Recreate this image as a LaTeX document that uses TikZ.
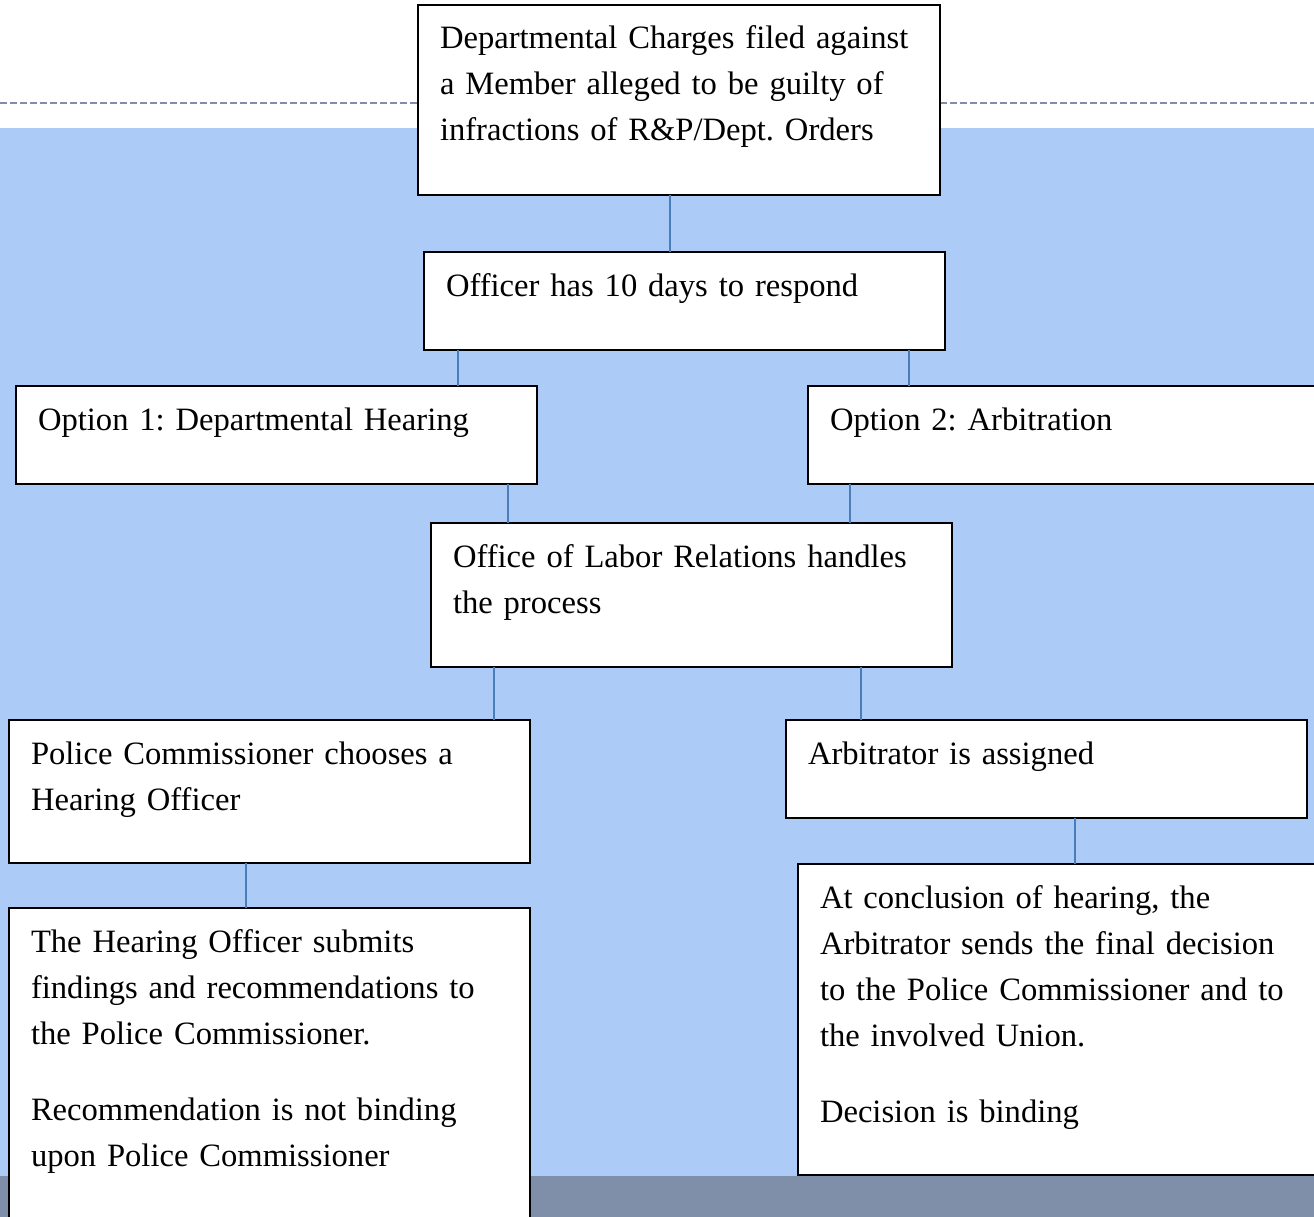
\documentclass[tikz,border=0pt]{standalone}
\usepackage{fontspec}
\setmainfont{Liberation Serif}
\usepackage[HTML]{xcolor}
\usepackage{tikz}
\usetikzlibrary{positioning}

\definecolor{skyfill}{HTML}{ADCBF7}
\definecolor{slateband}{HTML}{7F8FA9}
\definecolor{linkblue}{HTML}{4A7EBB}
\frenchspacing

\begin{document}
\begin{tikzpicture}[x=1pt, y=-1pt,
  card/.style={draw, fill=white, line width=2.5pt, anchor=north west,
    align=left, inner xsep=22pt, inner ysep=0pt, outer sep=0pt,
    text height=44pt, font=\fontsize{32.6}{46}\selectfont},
  link/.style={draw=linkblue, line width=2pt}]
\useasboundingbox (0,0) rectangle (1314,1217);
% Background
\fill[skyfill] (0,128) rectangle (1314,1176);
\fill[slateband] (0,1176) rectangle (1314,1217);
\draw[slateband, line width=2pt, dash pattern=on 7pt off 3pt] (0,103) -- (1314,103);
% Boxes
\node[card, text width=478pt, text depth=146pt] (charges) at (418,5)
  {Departmental Charges filed against\\a Member alleged to be guilty of\\infractions of R\&P/Dept. Orders};
\node[card, text width=477pt, text depth=54pt] (respond) at (424,252)
  {Officer has 10 days to respond};
\node[card, text width=477pt, text depth=54pt] (hearing) at (16,386)
  {Option 1: Departmental Hearing};
\node[card, text width=477pt, text depth=54pt] (arbitration) at (808,386)
  {Option 2: Arbitration};
\node[card, text width=477pt, text depth=100pt] (labor) at (431,523)
  {Office of Labor Relations handles\\the process};
\node[card, text width=477pt, text depth=99pt] (chooses) at (9,720)
  {Police Commissioner chooses a\\Hearing Officer};
\node[card, text width=477pt, text depth=54pt] (assigned) at (786,720)
  {Arbitrator is assigned};
\node[card, text width=477pt, text depth=286pt] (findings) at (9,908)
  {The Hearing Officer submits\\findings and recommendations to\\the Police Commissioner.\\[30pt]
   Recommendation is not binding\\upon Police Commissioner};
\node[card, text width=477pt, text depth=267pt] (decision) at (798,864)
  {At conclusion of hearing, the\\Arbitrator sends the final decision\\to the Police Commissioner and to\\the involved Union.\\[30pt]
   Decision is binding};
% Connectors
\foreach \a/\b/\x in {charges/respond/670, respond/hearing/458, respond/arbitration/909,
  hearing/labor/508, arbitration/labor/850, labor/chooses/494, labor/assigned/861,
  chooses/findings/246, assigned/decision/1075}{
\draw[link] (\a.south -| \x,0) -- (\b.north -| \x,0);
}
\end{tikzpicture}
\end{document}
